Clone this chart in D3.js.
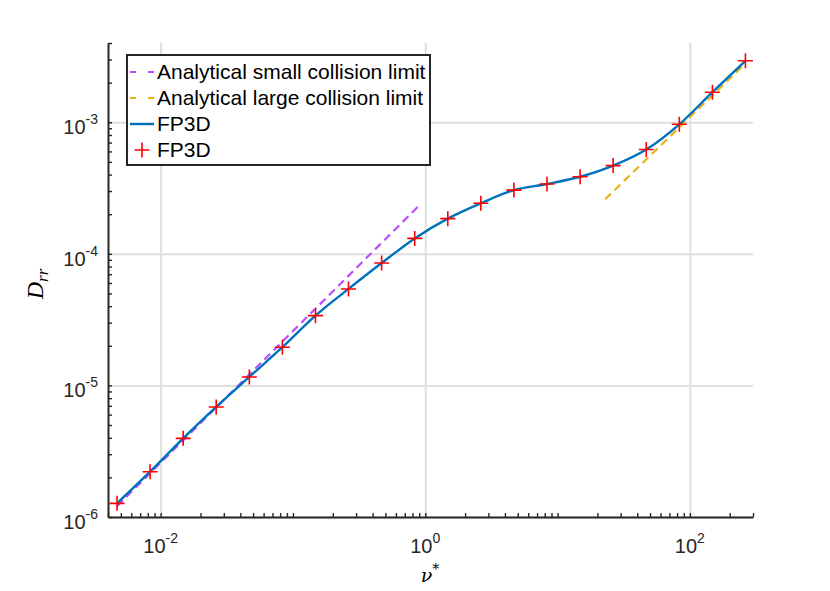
<!DOCTYPE html>
<html>
<head>
<meta charset="utf-8">
<script src="https://cdn.jsdelivr.net/npm/d3@7"></script>
<style>
body { margin: 0; background: #fff; }
</style>
</head>
<body>
<script>
// FP3D results
var nuStar = [0.00468, 0.00832, 0.0148, 0.0263, 0.0468, 0.0832, 0.148, 0.263, 0.468, 0.832,
              1.48, 2.63, 4.68, 8.32, 14.8, 26.3, 46.8, 83.2, 148, 263];
var Drr = [1.27e-6, 2.21e-6, 3.96e-6, 6.86e-6, 1.16e-5, 1.95e-5, 3.39e-5, 5.41e-5, 8.51e-5, 1.31e-4,
           1.85e-4, 2.42e-4, 3.05e-4, 3.39e-4, 3.85e-4, 4.68e-4, 6.2e-4, 9.64e-4, 1.69e-3, 2.93e-3];

// analytical limits (end points)
var smallNu = [0.00468, 0.9];
var smallD = [1.21e-6, 2.33e-4];
var largeNu = [22.9, 263];
var largeD = [2.6e-4, 2.8e-3];

var xMajor = [1e-2, 1, 1e2];
var xExp = ["-2", "0", "2"];
var yMajor = [1e-6, 1e-5, 1e-4, 1e-3];
var yExp = ["-6", "-5", "-4", "-3"];

var legendLabels = ["Analytical small collision limit", "Analytical large collision limit", "FP3D", "FP3D"];

var w = 830, h = 591;
var pLeft = 108, pRight = 753, pTop = 43, pBottom = 517;
var dark = "#262626";

var svg = d3.select("body").append("svg")
    .attr("width", w)
    .attr("height", h)
    .style("font-family", "'Liberation Sans', Arial, Helvetica, sans-serif");

var x = d3.scaleLog().domain([4e-3, 3e2]).range([pLeft, pRight]);
var y = d3.scaleLog().domain([1e-6, 4e-3]).range([pBottom, pTop]);

// grid at the decades
svg.append("g")
    .attr("transform", "translate(0," + pBottom + ")")
    .call(d3.axisBottom(x).tickValues(xMajor).tickSize(-(pBottom - pTop)).tickFormat(""))
    .call(function(g){ g.select(".domain").remove(); })
    .selectAll("line").attr("stroke", "#dfdfdf").attr("stroke-width", 2);

svg.append("g")
    .attr("transform", "translate(" + pLeft + ",0)")
    .call(d3.axisLeft(y).tickValues(yMajor).tickSize(-(pRight - pLeft)).tickFormat(""))
    .call(function(g){ g.select(".domain").remove(); })
    .selectAll("line").attr("stroke", "#dfdfdf").attr("stroke-width", 2);

// axes, ticks pointing inward
var xAxis = svg.append("g")
    .attr("transform", "translate(0," + pBottom + ")")
    .call(d3.axisBottom(x).tickValues(x.ticks()).tickSizeInner(-4).tickSizeOuter(0).tickFormat(""));
var yAxis = svg.append("g")
    .attr("transform", "translate(" + pLeft + ",0)")
    .call(d3.axisLeft(y).tickValues(y.ticks()).tickSizeInner(-4).tickSizeOuter(0).tickFormat(""));

[xAxis, yAxis].forEach(function(g){
	g.select(".domain").attr("stroke", dark).attr("stroke-width", 2);
	g.selectAll(".tick line").attr("stroke", dark).attr("stroke-width", 1.4);
});

// tick labels 10^n
var xt = svg.selectAll("text.xt").data(xMajor).enter().append("text")
    .attr("class", "xt")
    .attr("x", function(d){ return x(d); })
    .attr("y", 553)
    .attr("text-anchor", "middle")
    .attr("fill", dark)
    .style("font-size", "20px");
xt.append("tspan").text("10");
xt.append("tspan").attr("dy", -10).style("font-size", "14px").text(function(d, i){ return xExp[i]; });

var yt = svg.selectAll("text.yt").data(yMajor).enter().append("text")
    .attr("class", "yt")
    .attr("x", 98)
    .attr("y", function(d){ return y(d) + 12; })
    .attr("text-anchor", "end")
    .attr("fill", dark)
    .style("font-size", "20px");
yt.append("tspan").text("10");
yt.append("tspan").attr("dy", -10).style("font-size", "14px").text(function(d, i){ return yExp[i]; });

// axis labels
var xl = svg.append("text")
    .attr("x", 430)
    .attr("y", 582)
    .attr("text-anchor", "middle")
    .style("font-family", "'DejaVu Serif', 'Liberation Serif', serif")
    .style("font-style", "italic")
    .style("font-size", "19px");
xl.append("tspan").text("\u03bd");
xl.append("tspan").attr("dy", -8).style("font-size", "14px").text("*");

var yl = svg.append("text")
    .attr("transform", "translate(43,284) rotate(-90)")
    .attr("text-anchor", "middle")
    .style("font-family", "'Liberation Serif', 'DejaVu Serif', serif")
    .style("font-style", "italic")
    .style("font-size", "24px");
yl.append("tspan").text("D");
yl.append("tspan").attr("dy", 5).style("font-size", "17px").text("rr");

// lines
var line = d3.line()
    .x(function(d){ return x(d[0]); })
    .y(function(d){ return y(d[1]); });

svg.append("path")
    .datum(d3.zip(smallNu, smallD))
    .attr("d", line)
    .attr("fill", "none")
    .attr("stroke", "#b94cff")
    .attr("stroke-width", 2.2)
    .attr("stroke-dasharray", "8,5");

svg.append("path")
    .datum(d3.zip(largeNu, largeD))
    .attr("d", line)
    .attr("fill", "none")
    .attr("stroke", "#edb120")
    .attr("stroke-width", 2.2)
    .attr("stroke-dasharray", "8,5");

svg.append("path")
    .datum(d3.zip(nuStar, Drr))
    .attr("d", line.curve(d3.curveMonotoneX))
    .attr("fill", "none")
    .attr("stroke", "#0072bd")
    .attr("stroke-width", 2.4);

var cross = "M-7.5,0H7.5M0,-7.5V7.5";
svg.selectAll("path.pt").data(d3.zip(nuStar, Drr)).enter().append("path")
    .attr("class", "pt")
    .attr("transform", function(d){ return "translate(" + x(d[0]) + "," + y(d[1]) + ")"; })
    .attr("d", cross)
    .attr("stroke", "#ff0000")
    .attr("stroke-width", 1.6)
    .attr("fill", "none");

// legend
var lg = svg.append("g");
lg.append("rect")
    .attr("x", 127).attr("y", 55)
    .attr("width", 303).attr("height", 110)
    .attr("fill", "#fff")
    .attr("stroke", dark)
    .attr("stroke-width", 2);

var rowY = [72, 98, 124, 150];
lg.append("line").attr("x1", 130).attr("x2", 154).attr("y1", rowY[0]).attr("y2", rowY[0])
    .attr("stroke", "#b94cff").attr("stroke-width", 2.2).attr("stroke-dasharray", "6,12");
lg.append("line").attr("x1", 130).attr("x2", 154).attr("y1", rowY[1]).attr("y2", rowY[1])
    .attr("stroke", "#edb120").attr("stroke-width", 2.2).attr("stroke-dasharray", "6,12");
lg.append("line").attr("x1", 130).attr("x2", 154).attr("y1", rowY[2]).attr("y2", rowY[2])
    .attr("stroke", "#0072bd").attr("stroke-width", 2.4);
lg.append("path").attr("transform", "translate(142," + rowY[3] + ")").attr("d", cross)
    .attr("stroke", "#ff0000").attr("stroke-width", 1.6);

lg.selectAll("text").data(legendLabels).enter().append("text")
    .attr("x", 157)
    .attr("y", function(d, i){ return rowY[i] + 7; })
    .style("font-size", "21px")
    .attr("fill", "#000")
    .text(function(d){ return d; });
</script>
</body>
</html>
